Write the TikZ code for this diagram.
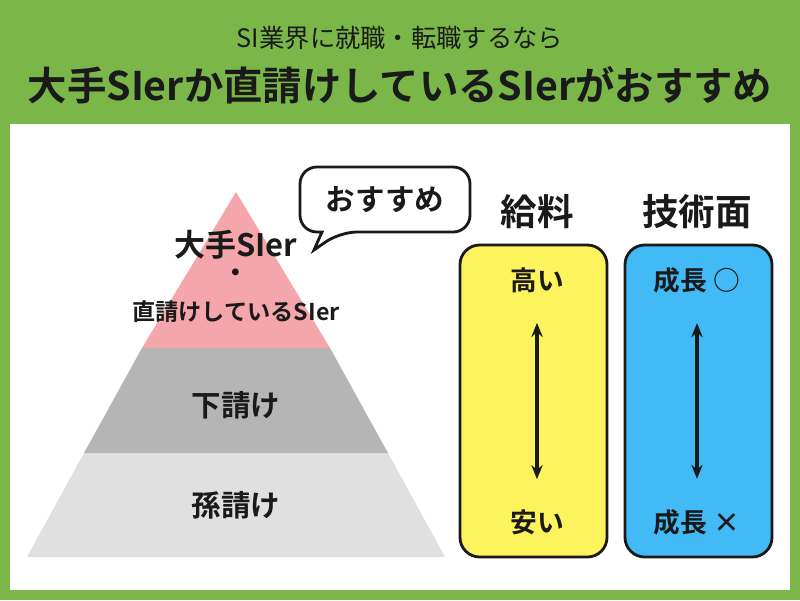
\documentclass[tikz,border=0pt]{standalone}
\usepackage{fontspec}
\setmainfont{Noto Sans CJK JP}[BoldFont={Noto Sans CJK JP Bold}]
\usetikzlibrary{arrows.meta}
\definecolor{headgreen}{HTML}{7AB648}
\definecolor{toppink}{HTML}{F4A6AB}
\definecolor{midgray}{HTML}{B5B5B5}
\definecolor{lowgray}{HTML}{E0E0E0}
\definecolor{payyellow}{HTML}{FDF35C}
\definecolor{techblue}{HTML}{42BAF6}
\definecolor{ink}{HTML}{1A1A1A}
\begin{document}
\begin{tikzpicture}[x=0.025cm,y=-0.025cm]
    \tikzset{label/.style = {text=ink,font=\bfseries\fontsize{19}{21}\selectfont}}
    \tikzset{head/.style = {text=ink,font=\bfseries\fontsize{26}{28}\selectfont}}
    \tikzset{column/.style = {draw=ink,line width=2pt,rounded corners=14pt}}
    \tikzset{scalearrow/.style = {ink,line width=2.3pt,{Stealth[length=10pt,width=8pt]}-{Stealth[length=10pt,width=8pt]}}}
    \useasboundingbox (0,0) rectangle (800,600);
    % frame
    \fill[headgreen] (0,0) rectangle (800,600);
    \fill[white] (10,124) rectangle (790,590);
    \node[text=ink,font=\fontsize{18}{20}\selectfont] (sub) at (400,38) {SI業界に就職・転職するなら};
    \node[text=ink,font=\bfseries\fontsize{28}{30}\selectfont] (title) at (400,85) {大手SIerか直請けしているSIerがおすすめ};
    % pyramid
    \fill[lowgray] (27,557) -- (445,557) -- (388,453) -- (84,453) -- cycle;
    \fill[midgray] (84,453) -- (388,453) -- (330,348) -- (142,348) -- cycle;
    \fill[toppink] (142,348) -- (330,348) -- (236,192) -- cycle;
    \node[label,font=\bfseries\fontsize{22}{24}\selectfont] (big) at (236,245) {大手SIer};
    \node[label] (dot) at (236,276) {・};
    \node[label,font=\bfseries\fontsize{16.5}{18}\selectfont] (direct) at (236,312) {直請けしているSIer};
    \node[label,font=\bfseries\fontsize{21}{23}\selectfont] (sub1) at (236,405) {下請け};
    \node[label,font=\bfseries\fontsize{21}{23}\selectfont] (sub2) at (236,505) {孫請け};
    % bubble
    \draw[fill=white,draw=ink,line width=2pt,rounded corners=12pt]
        (300,167) -- (470,167) -- (470,232) -- (340,232) [sharp corners] -- (314,250) -- (322,232) [rounded corners=12pt] -- (300,232) -- cycle;
    \node[label,font=\bfseries\fontsize{21}{23}\selectfont] (rec) at (385,200) {おすすめ};
    % columns
    \node[head] (pay) at (537,212) {給料};
    \draw[column,fill=payyellow] (460,245) rectangle (607,557);
    \node[label] (high) at (537,280) {高い};
    \node[label] (low) at (537,522) {安い};
    \draw[scalearrow] ([yshift=-18pt]high.south) -- ([yshift=18pt]low.north);
    \node[head] (tech) at (697,212) {技術面};
    \draw[column,fill=techblue] (625,245) rectangle (772,557);
    \node[label] (good) at (697,280) {成長 ○};
    \node[label] (bad) at (697,522) {成長 ×};
    \draw[scalearrow] ([yshift=-18pt]good.south) -- ([yshift=18pt]bad.north);
\end{tikzpicture}
\end{document}
